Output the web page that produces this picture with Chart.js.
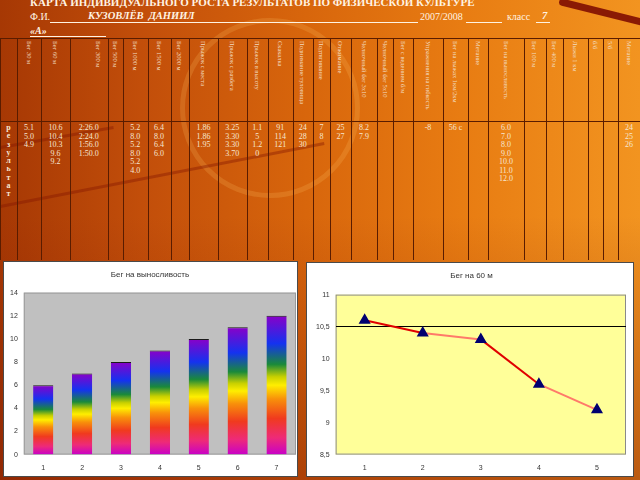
<!DOCTYPE html>
<html><head><meta charset="utf-8">
<script src="https://cdn.jsdelivr.net/npm/chart.js@4.4.0/dist/chart.umd.min.js"></script>
<style>
html,body{margin:0;padding:0;}
body{width:640px;height:480px;overflow:hidden;position:relative;font-family:"Liberation Serif",serif;
 background:linear-gradient(90deg,#a63804 0%,#c24e0a 22%,#d8660c 48%,#e87c12 72%,#f29420 100%);}
#shade{position:absolute;left:0;top:0;width:640px;height:480px;background:linear-gradient(180deg,rgba(120,20,0,0) 0%,rgba(120,20,0,0) 45%,rgba(120,20,0,0.45) 100%);}
.arc{position:absolute;border-radius:50%;border:5px solid rgba(255,195,100,0.2);}
.streak{position:absolute;height:3px;background:rgba(130,20,0,0.4);transform-origin:0 0;}
.t{position:absolute;color:#fff3e2;white-space:nowrap;}
.vl{position:absolute;width:1px;background:#5a1c00;}
.hl{position:absolute;height:1px;background:#5a1c00;}
.hcell{position:absolute;display:flex;justify-content:center;align-items:flex-start;}
.hcell span{writing-mode:vertical-rl;font-size:6.5px;color:#f2dcc0;line-height:7px;}
.dcell{position:absolute;text-align:center;font-size:8px;line-height:8.5px;color:#f6e6d2;}
.box{position:absolute;background:#fff;border:1px solid #4a4a4a;overflow:hidden;}
</style></head>
<body>
<div class="arc" style="left:180px;top:18px;width:170px;height:170px;"></div>
<div class="streak" style="left:0;top:146px;width:115px;transform:rotate(-10deg);"></div>
<div class="streak" style="left:0;top:205px;width:330px;transform:rotate(-11deg);"></div>
<div id="shade"></div>
<div style="position:absolute;left:560px;top:-2px;width:90px;height:7px;background:#8a1a04;border-radius:4px;transform:rotate(14deg);transform-origin:0 0;"></div>

<div class="t" style="left:30px;top:-4px;font-size:11px;font-weight:bold;">КАРТА ИНДИВИДУАЛЬНОГО РОСТА РЕЗУЛЬТАТОВ ПО ФИЗИЧЕСКОЙ КУЛЬТУРЕ</div>
<div class="t" style="left:30px;top:11px;font-size:10px;">Ф.И.</div>
<div style="position:absolute;left:50px;top:22px;width:368px;height:1px;background:#fff3e2;"></div>
<div class="t" style="left:88px;top:10px;font-size:10.5px;font-weight:bold;font-style:italic;">КУЗОВЛЁВ&nbsp; ДАНИИЛ</div>
<div class="t" style="left:420px;top:11px;font-size:10px;">2007/2008</div>
<div style="position:absolute;left:466px;top:22px;width:36px;height:1px;background:#fff3e2;"></div>
<div class="t" style="left:507px;top:11px;font-size:10px;">класс</div>
<div style="position:absolute;left:536px;top:22px;width:14px;height:1px;background:#fff3e2;"></div>
<div class="t" style="left:542px;top:10px;font-size:10.5px;font-style:italic;font-weight:bold;">7</div>
<div class="t" style="left:30px;top:25px;font-size:10px;font-weight:bold;font-style:italic;">«А»</div>
<div style="position:absolute;left:30px;top:36px;width:76px;height:1px;background:#fff3e2;"></div>

<div id="table"></div>

<div class="box" style="left:3px;top:261px;width:293px;height:214px;"><canvas id="barChart" width="293" height="214"></canvas></div>
<div class="box" style="left:306px;top:262px;width:326px;height:213px;"><canvas id="lineChart" width="326" height="213"></canvas></div>

<script>
// ---------- data ----------
const barLabels = ['1','2','3','4','5','6','7'];
const enduranceValues = [6, 7, 8, 9, 10, 11, 12];
const barTitle = 'Бег на выносливость';

const lineLabels = ['1','2','3','4','5'];
const sprint60Values = [10.6, 10.4, 10.3, 9.6, 9.2];
const lineTitle = 'Бег на 60 м';
const lineTicks = [8.5, 9, 9.5, 10, 10.5, 11];

const tableHeaders = ['', 'Бег 30 м', 'Бег 60 м', 'Бег 300 м', 'Бег 500 м', 'Бег 1000 м', 'Бег 1500 м', 'Бег 2000 м',
  'Прыжок с места', 'Прыжок с разбега', 'Прыжок в высоту', 'Скакалка', 'Поднимание туловища', 'Подтягивание',
  'Отжимание', 'Челночный бег 3х10', 'Челночный бег 5х10', 'Бег с ведением б/м', 'Упражнения на гибкость',
  'Бег на лыжах 1км/2км', 'Метание', 'Бег на выносливость', 'Бег 100 м', 'Бег 400 м', 'Лыжи 1 км', 'б/б', '5/б', 'Метание'];
const rowLabel = 'результат';
const run30 = ['5.1', '5.0', '4.9'];
const run300 = ['2:26.0', '2:24.0', '1:56.0', '1:50.0'];
const run1000 = ['5.2', '8.0', '5.2', '8.0', '5.2', '4.0'];
const run1500 = ['6.4', '8.0', '6.4', '6.0'];
const standingJump = ['1.86', '1.86', '1.95'];
const runningJump = ['3.25', '3.30', '3.30', '3.70'];
const highJump = ['1.15', '1.20'];
const skipping = ['91', '114', '121'];
const situps = ['24', '28', '30'];
const pullups = ['7', '8'];
const pushups = ['25', '27'];
const shuttle3x10 = ['8.2', '7.9'];
const flexibility = ['-8'];
const skiRun = ['56 с'];
const throwing = ['24', '25', '26'];

// ---------- table ----------
const colEdges = [0,17,41,70,107.5,123,147.5,170.5,189,218,246.5,268,292.5,313,330,351,377,393,413,443,468,488,524,545.5,563,588,603,618,640];
const colValues = [[], run30, sprint60Values.map(v => v.toFixed(1)), run300, [], run1000, run1500, [],
  standingJump, runningJump, highJump, skipping, situps, pullups, pushups, shuttle3x10, [], [], flexibility,
  skiRun, [], enduranceValues.map(v => v.toFixed(1)), [], [], [], [], [], throwing];

const tbl = document.getElementById('table');
function add(cls, style, html) {
  const d = document.createElement('div'); d.className = cls; d.setAttribute('style', style);
  if (html !== undefined) d.innerHTML = html; tbl.appendChild(d); return d;
}
add('hl', 'left:0;top:38px;width:640px;');
add('hl', 'left:0;top:121px;width:640px;');
colEdges.forEach(x => add('vl', `left:${Math.round(x)}px;top:38px;height:222px;`));
tableHeaders.forEach((h, i) => {
  const l = colEdges[i], w = colEdges[i+1] - colEdges[i];
  const extra = (i === 3) ? 'justify-content:flex-end;padding-right:6px;box-sizing:border-box;' : '';
  add('hcell', `left:${l}px;top:41px;width:${w}px;height:78px;${extra}`, `<span>${h}</span>`);
});
colValues.forEach((vals, i) => {
  if (!vals.length) return;
  const l = colEdges[i], w = colEdges[i+1] - colEdges[i];
  const narrow = (i === 10) ? 'word-break:break-all;padding:0 5px;box-sizing:border-box;' : '';
  add('dcell', `left:${l}px;top:124px;width:${w}px;${narrow}`, vals.join('<br>'));
});
add('dcell', `left:0;top:124px;width:17px;font-weight:bold;line-height:8.3px;`, rowLabel.split('').join('<br>'));

// ---------- charts ----------
const plotBg = (fill, stroke) => ({
  id: 'plotBg',
  beforeDraw(chart) {
    const a = chart.chartArea, c = chart.ctx;
    c.save(); c.fillStyle = fill; c.fillRect(a.left, a.top, a.width, a.height);
    c.strokeStyle = stroke; c.lineWidth = 1;
    c.strokeRect(a.left + 0.5, a.top + 0.5, a.width - 1, a.height - 1); c.restore();
  }
});

const rainbowStops = [[0,'#c800c8'],[0.12,'#ee2a78'],[0.26,'#f03a1e'],[0.4,'#f8900a'],[0.5,'#ffee00'],
  [0.56,'#c8d000'],[0.65,'#1a8a3a'],[0.8,'#1432f0'],[1,'#8a00c8']];
function rainbow(ctx) {
  const chart = ctx.chart;
  if (!chart.chartArea || ctx.parsed === undefined) return '#c800c8';
  const ys = chart.scales.y;
  const top = ys.getPixelForValue(ctx.parsed.y), base = ys.getPixelForValue(0);
  const g = chart.ctx.createLinearGradient(0, base, 0, top);
  rainbowStops.forEach(s => g.addColorStop(s[0], s[1]));
  return g;
}

const tickFont = {family: 'Liberation Sans', size: 7};
Chart.defaults.font.family = 'Liberation Sans';

new Chart(document.getElementById('barChart'), {
  type: 'bar',
  data: { labels: barLabels, datasets: [{ data: enduranceValues, backgroundColor: rainbow,
    borderColor: '#1a1a1a', borderWidth: {top: 1, left: 0, right: 0, bottom: 0}, borderSkipped: 'bottom',
    barPercentage: 0.52, categoryPercentage: 1 }] },
  options: {
    responsive: false, animation: false, events: [],
    layout: { padding: {left: 0, right: 1, top: 0, bottom: -5} },
    plugins: { legend: {display: false}, tooltip: {enabled: false},
      title: { display: true, text: barTitle, color: '#333', font: {size: 8, weight: 'normal'}, padding: {top: 8, bottom: 13} } },
    scales: {
      x: { grid: {display: false, drawTicks: false}, border: {display: false}, ticks: {font: tickFont, color: '#333', padding: 9} },
      y: { min: 0, max: 14, grid: {display: false, drawTicks: false}, border: {display: false},
        ticks: {stepSize: 2, font: tickFont, color: '#333', padding: 6} }
    }
  },
  plugins: [plotBg('#c0c0c0', '#9a9a9a')]
});

const segColors = ['#e00000', '#ff7a6a', '#e00000', '#ff7a6a'];
new Chart(document.getElementById('lineChart'), {
  type: 'line',
  data: { labels: lineLabels, datasets: [{ data: sprint60Values, borderWidth: 2,
    segment: { borderColor: c => segColors[c.p0DataIndex] }, borderColor: '#e00000',
    pointStyle: 'triangle', pointRadius: 5, pointBackgroundColor: '#000070', pointBorderColor: '#000070', tension: 0 }] },
  options: {
    responsive: false, animation: false, events: [],
    layout: { padding: {left: 3, right: 0, top: 0, bottom: -5} },
    plugins: { legend: {display: false}, tooltip: {enabled: false},
      title: { display: true, text: lineTitle, color: '#333', font: {size: 8, weight: 'normal'}, padding: {top: 8, bottom: 14} } },
    scales: {
      x: { offset: true, grid: {display: false, drawTicks: false}, border: {display: false}, ticks: {font: tickFont, color: '#333', padding: 9} },
      y: { min: 8.5, max: 11, border: {display: false},
        afterBuildTicks: s => { s.ticks = lineTicks.map(v => ({value: v})); },
        grid: { drawTicks: false, color: c => (c.tick && c.tick.value === 10.5) ? '#000' : 'rgba(0,0,0,0)', lineWidth: 1 },
        ticks: { font: tickFont, color: '#333', padding: 6, callback: v => String(v).replace('.', ',') } }
    }
  },
  plugins: [plotBg('#ffff99', '#8a8a8a')]
});
</script>
</body></html>
